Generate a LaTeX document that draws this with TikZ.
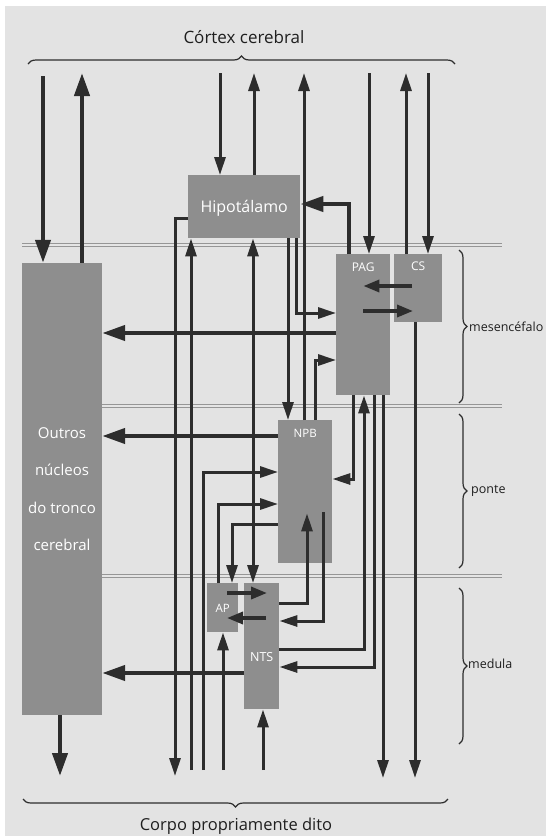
\documentclass[tikz,border=0pt]{standalone}
\usepackage{fontspec}
\setmainfont{Open Sans}
\usetikzlibrary{arrows.meta,decorations.pathreplacing,calc}
\definecolor{bg}{RGB}{227,227,227}
\definecolor{boxc}{RGB}{142,142,142}
\definecolor{linec}{RGB}{45,45,45}
\definecolor{sepc}{RGB}{150,150,150}
\begin{document}
\begin{tikzpicture}[x=1pt,y=-1pt,
  box/.style={fill=boxc, draw=none, inner sep=0pt, text=white, anchor=north west},
  ln/.style={draw=linec, line width=3pt},
  arr/.style={ln, -{Triangle[length=18pt,width=11pt]}},
  darr/.style={ln, {Triangle[length=18pt,width=11pt]}-{Triangle[length=18pt,width=11pt]}},
  tarr/.style={draw=linec, line width=4.2pt, -{Triangle[length=23pt,width=15pt]}},
  iarr/.style={draw=linec, line width=3.4pt, -{Triangle[length=16pt,width=12pt]}},
  sepl/.style={draw=sepc, line width=0.9pt, double=white!75!sepc, double distance=1.6pt},
  brc/.style={draw=linec, line width=1.2pt, decorate, decoration={brace, amplitude=8pt}},
  lab/.style={text=black!88, inner sep=0pt}
]
\fill[white] (0,0) rectangle (546,836);
\fill[bg] (5,6) rectangle (546,836);

% region separators
\draw[sepl] (22,245) -- (502,245);
\draw[sepl] (102,406) -- (502,406);
\draw[sepl] (102,576) -- (502,576);

% braces and labels
\node[lab, font=\fontsize{17}{20}\selectfont] (cortex) at (244,37) {Córtex cerebral};
\node[lab, font=\fontsize{16.5}{20}\selectfont] (corpo) at (236,826) {Corpo propriamente dito};
\node[lab, anchor=west, font=\fontsize{12.5}{15}\selectfont] (mes) at (469,327) {mesencéfalo};
\node[lab, anchor=west, font=\fontsize{12.5}{15}\selectfont] (ponte) at (471,491) {ponte};
\node[lab, anchor=west, font=\fontsize{12.5}{15}\selectfont] (medula) at (468,664) {medula};
\draw[brc] (28,64) -- (455,64);
\draw[brc] (448,799) -- (23,799);
\draw[brc] (459,250) -- (459,403);
\draw[brc] (459,414) -- (459,568);
\draw[brc] (459,588) -- (459,744);

% boxes
\node[box, anchor=center, minimum width=80pt, minimum height=452pt, align=center,
      font=\fontsize{15}{37.5}\selectfont] (outros) at (62,489) {Outros\\núcleos\\do tronco\\cerebral};
\node[box, minimum width=112pt, text height=37pt, text depth=26pt, font=\fontsize{16}{18}\selectfont] (hipo) at (188,175) {Hipotálamo};
\node[box, minimum width=54pt, text height=17pt, text depth=124pt, font=\fontsize{12}{13}\selectfont] (pag) at (336,254) {PAG};
\node[box, minimum width=48pt, text height=16pt, text depth=52pt, font=\fontsize{12}{13}\selectfont] (cs) at (394,254) {CS};
\node[box, minimum width=54pt, text height=17pt, text depth=126pt, font=\fontsize{11.5}{13}\selectfont] (npb) at (278,420) {NPB};
\node[box, minimum width=31pt, text height=29pt, text depth=20pt, font=\fontsize{11.5}{13}\selectfont] (ap) at (207,583) {AP};
\node[box, minimum width=35pt, text height=78pt, text depth=48pt, font=\fontsize{12.5}{14}\selectfont] (nts) at (244,583) {NTS};

% free ends
\coordinate (tA) at (43,76);
\coordinate (tB) at (82,73);
\coordinate (tC) at (220,73);
\coordinate (tD) at (254,73);
\coordinate (tE) at (304,73);
\coordinate (tF) at (369,73);
\coordinate (tG) at (406,73);
\coordinate (tH) at (428,73);
\coordinate (bA) at (60,776);
\coordinate (bB) at (175,776);
\coordinate (bC) at (191,770);
\coordinate (bD) at (203,770);
\coordinate (bE) at (223,770);
\coordinate (bF) at (263,770);
\coordinate (bG) at (383,778);
\coordinate (bH) at (415,778);

% cortex connections
\draw[tarr] (tA) -- (tA |- outros.north);
\draw[tarr] (tB |- outros.north) -- (tB);
\draw[arr] (tC) -- (tC |- hipo.north);
\draw[arr] (tD |- hipo.north) -- (tD);
\draw[arr] (tE |- npb.north) -- (tE);
\draw[arr] (tF) -- (tF |- pag.north);
\draw[arr] (tG |- cs.north) -- (tG);
\draw[arr] (tH) -- (tH |- cs.north);

% hypothalamus
\draw[tarr] (pag.north -| 349,0) |- (hipo.east |- 0,204);
\draw[arr] (hipo.west |- 0,218) -| (bB);
\draw[arr] (bC) -- (bC |- hipo.south);
\draw[darr] (nts.north -| 253,0) -- (hipo.south -| 253,0);
\draw[arr] (hipo.south -| 288,0) -- (npb.north -| 288,0);
\draw[arr] (hipo.south -| 296,0) |- (pag.west |- 0,313);

% PAG / CS
\draw[arr] (npb.north -| 315,0) |- (pag.west |- 0,360);
\draw[tarr] (pag.west |- 0,333) -- (outros.east |- 0,333);
\draw[iarr] ($(cs.west |- 0,286)+(18,0)$) -- ($(pag.east |- 0,286)+(-27,0)$);
\draw[iarr] ($(pag.east |- 0,311)+(-27,0)$) -- ($(cs.west |- 0,311)+(19,0)$);
\draw[arr] (pag.south -| 353,0) |- (npb.east |- 0,479);
\draw[arr] (nts.east |- 0,649) -| (pag.south -| 364,0);
\draw[arr] (pag.south -| 374,0) |- (nts.east |- 0,667);
\draw[arr] (pag.south -| 383,0) -- (bG);
\draw[arr] (cs.south -| 415,0) -- (bH);

% NPB
\draw[tarr] (npb.west |- 0,436) -- (outros.east |- 0,436);
\draw[arr] (nts.east |- 0,603) -| ($(npb.south -| 307,0)+(0,-50)$);
\draw[arr] ($(npb.south -| 323,0)+(0,-51)$) |- (nts.east |- 0,621);
\draw[arr] (bD) |- (npb.west |- 0,472);
\draw[arr] (ap.north -| 218,0) |- (npb.west |- 0,504);
\draw[arr] (npb.west |- 0,524) -| (ap.north -| 232,0);

% AP / NTS
\draw[iarr] ($(ap.west |- 0,593)+(20,0)$) -- ($(nts.west |- 0,593)+(23,0)$);
\draw[iarr] ($(nts.west |- 0,618)+(22,0)$) -- ($(ap.west |- 0,618)+(20,0)$);
\draw[arr] (bE) -- (bE |- ap.south);
\draw[arr] (bF) -- (bF |- nts.south);
\draw[tarr] (nts.west |- 0,673) -- (outros.east |- 0,673);
\draw[tarr] (outros.south -| bA) -- (bA);
\end{tikzpicture}
\end{document}
